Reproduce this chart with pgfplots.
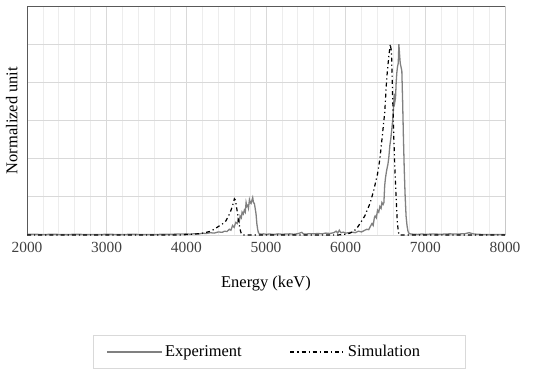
\documentclass[border=0pt]{standalone}
\usepackage{pgfplots}
\pgfplotsset{compat=1.18}
\usepackage{fontspec}
\setmainfont{Liberation Serif}
\definecolor{frame}{HTML}{595959}
\definecolor{majgrid}{HTML}{D9D9D9}
\definecolor{mingrid}{HTML}{EDEDED}
\definecolor{expc}{HTML}{808080}
\definecolor{txt}{HTML}{404040}
\begin{document}
\begin{tikzpicture}
\begin{axis}[
  name=ax,
  scale only axis, width=478bp, height=229bp,
  xmin=2000, xmax=8000, ymin=0, ymax=1.2,
  xtick={2000,3000,...,8000},
  minor xtick={2200,2400,...,7800},
  ytick={0,0.2,...,1.2}, yticklabels={},
  xmajorgrids, xminorgrids, ymajorgrids,
  major grid style={majgrid, line width=0.8bp},
  minor grid style={mingrid, line width=0.8bp},
  major tick length=0pt, minor tick length=0pt,
  axis line style={draw=none},
  scaled x ticks=false,
  /pgf/number format/assume math mode=true,
  xticklabel={\pgfmathprintnumber[1000 sep={}]{\tick}},
  tick label style={font=\fontsize{15.5}{17}\selectfont, text=txt},
  xticklabel style={yshift=-4bp},
  xlabel={Energy (keV)}, ylabel={Normalized unit},
  label style={font=\fontsize{16.5}{19}\selectfont, text=black},
  xlabel style={yshift=-16bp},
  ylabel style={yshift=-1bp},
  legend columns=2,
  legend style={at={(0.528,-0.511)}, anchor=center, draw=majgrid, line width=0.8bp,
    font=\fontsize{16.5}{19}\selectfont, inner xsep=13bp, inner ysep=8bp,
    /tikz/every even column/.append style={column sep=46bp}},
  legend image code/.code={\draw[#1] (0bp,0bp) -- (55bp,0bp);},
]
\draw[frame, line width=1bp] (rel axis cs:0,0) -- (rel axis cs:0,1) -- (rel axis cs:1,1) -- (rel axis cs:1,0);
\draw[majgrid, line width=1bp] (rel axis cs:0,0) -- (rel axis cs:1,0);
\addplot[expc, line width=1.3bp] coordinates {
(2000,0.003)(2100,0.004)(2200,0.002)(2300,0.004)(2400,0.003)(2500,0.002)(2600,0.004)(2700,0.003)(2800,0.003)(2900,0.002)
(3000,0.004)(3100,0.003)(3200,0.002)(3300,0.004)(3400,0.003)(3500,0.003)(3600,0.002)(3700,0.004)(3800,0.004)(3900,0.005)
(4000,0.006)(4050,0.004)(4100,0.007)(4150,0.005)(4200,0.009)(4250,0.008)(4300,0.012)(4350,0.010)(4400,0.016)(4450,0.014)
(4480,0.020)(4510,0.018)(4540,0.030)(4560,0.025)(4580,0.050)(4600,0.040)(4620,0.066)(4640,0.060)(4650,0.084)(4665,0.070)
(4675,0.100)(4690,0.090)(4700,0.120)(4715,0.110)(4728,0.130)(4740,0.120)(4750,0.170)(4760,0.150)(4770,0.155)(4780,0.140)
(4792,0.185)(4802,0.170)(4812,0.165)(4822,0.180)(4833,0.196)(4843,0.170)(4854,0.165)(4864,0.140)(4875,0.110)(4885,0.060)
(4895,0.030)(4905,0.012)(4916,0.007)(4940,0.004)(4970,0.006)(5000,0.004)(5050,0.005)(5100,0.003)(5150,0.006)(5200,0.004)
(5250,0.005)(5300,0.006)(5350,0.004)(5400,0.007)(5450,0.014)(5470,0.006)(5500,0.005)(5550,0.007)(5600,0.006)(5650,0.008)
(5700,0.006)(5750,0.010)(5800,0.008)(5850,0.012)(5880,0.020)(5900,0.010)(5920,0.025)(5940,0.012)(5970,0.015)(6000,0.010)
(6040,0.012)(6080,0.015)(6120,0.012)(6160,0.020)(6200,0.016)(6240,0.025)(6265,0.030)(6290,0.028)(6310,0.045)(6330,0.060)
(6345,0.050)(6360,0.090)(6370,0.100)(6385,0.090)(6400,0.130)(6415,0.120)(6430,0.150)(6445,0.140)(6455,0.170)(6470,0.160)
(6480,0.170)(6490,0.260)(6500,0.300)(6515,0.340)(6530,0.370)(6540,0.400)(6555,0.470)(6565,0.500)(6578,0.550)(6590,0.600)
(6600,0.660)(6610,0.740)(6618,0.700)(6626,0.720)(6634,0.800)(6642,0.850)(6650,0.880)(6660,0.900)(6668,1.000)(6676,0.950)
(6685,0.900)(6695,0.880)(6705,0.860)(6715,0.700)(6725,0.510)(6735,0.350)(6745,0.220)(6758,0.100)(6770,0.050)(6782,0.020)
(6795,0.008)(6820,0.005)(6860,0.004)(6900,0.003)(6950,0.005)(7000,0.004)(7100,0.005)(7200,0.004)(7300,0.006)(7400,0.005)
(7500,0.007)(7550,0.012)(7600,0.006)(7650,0.004)(7700,0.003)(7800,0.002)(7900,0.003)(8000,0.002)
};
\addlegendentry{Experiment}
\addplot[black, line width=1.2bp, dash pattern={on 4bp off 3bp on 1.2bp off 3bp}] coordinates {
(2000,0)(3900,0)(4000,0.002)(4100,0.005)(4163,0.007)(4220,0.011)(4289,0.018)(4350,0.030)(4414,0.048)(4460,0.060)
(4498,0.075)(4530,0.100)(4561,0.130)(4585,0.160)(4603,0.190)(4613,0.185)(4623,0.165)(4640,0.120)(4657,0.075)(4672,0.035)
(4686,0.012)(4707,0)(5900,0)(6000,0.004)(6055,0.010)(6100,0.020)(6140,0.035)(6180,0.060)(6240,0.100)(6305,0.165)
(6350,0.230)(6400,0.320)(6430,0.400)(6465,0.540)(6490,0.640)(6515,0.820)(6540,0.930)(6560,1.000)(6575,0.960)(6590,0.720)
(6605,0.500)(6620,0.320)(6635,0.180)(6648,0.070)(6660,0.020)(6672,0)(8000,0)
};
\addlegendentry{Simulation\hspace*{30bp}}
\end{axis}
\path ([shift={(-27bp,6bp)}]ax.north west) rectangle ([shift={(45bp,-147bp)}]ax.south east);
\end{tikzpicture}
\end{document}
